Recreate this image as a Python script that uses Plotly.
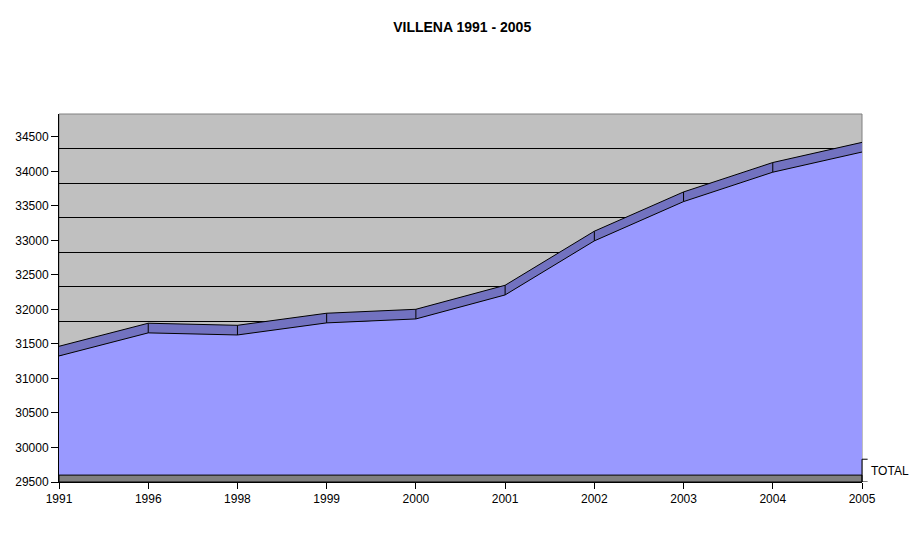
import plotly.graph_objects as go

years = ["1991", "1996", "1998", "1999", "2000", "2001", "2002", "2003", "2004", "2005"]
total = [31326, 31660, 31630, 31805, 31862, 32210, 32993, 33562, 33988, 34280]
grid_vals = [30000, 30500, 31000, 31500, 32000, 32500, 33000, 33500, 34000, 34500]

y_min, y_max = 29500, 34831
depth = 140      # thickness of the 3D top band (value units)
wall_shift = 174  # back-wall gridlines sit lower than the tick marks
floor_h = 100

front_col = "#9999FF"
top_col = "#7272C0"

band_top = [v + depth for v in total]

# little vertical dividers on the top band at each category
div_x, div_y = [], []
for x, v, t in zip(years[1:-1], total[1:-1], band_top[1:-1]):
    div_x += [x, x, None]
    div_y += [v, t, None]

fig = go.Figure()

fig.add_trace(go.Scatter(
    x = years, y = total, mode = "lines",
    line = dict(color = "black", width = 1),
    fill = "tozeroy", fillcolor = front_col,
    showlegend = False, hoverinfo = "x+y",
))
fig.add_trace(go.Scatter(
    x = years, y = band_top, mode = "lines",
    line = dict(color = "black", width = 1),
    fill = "tonexty", fillcolor = top_col,
    showlegend = False, hoverinfo = "skip",
))
fig.add_trace(go.Scatter(
    x = div_x, y = div_y, mode = "lines",
    line = dict(color = "black", width = 1),
    showlegend = False, hoverinfo = "skip",
))
# invisible trace to carry the shifted back-wall grid axis
fig.add_trace(go.Scatter(
    x = [years[0]], y = [grid_vals[0]], yaxis = "y2", mode = "markers",
    marker = dict(opacity = 0), showlegend = False, hoverinfo = "skip",
))

# floor of the 3D box
fig.add_shape(
    type = "rect", xref = "paper", yref = "y",
    x0 = 0, x1 = 1, y0 = y_min, y1 = y_min + floor_h,
    fillcolor = "#808080", line = dict(color = "black", width = 1),
    layer = "above",
)
# depth axis at the right
fig.add_shape(type = "line", xref = "paper", yref = "y",
              x0 = 1, x1 = 1, y0 = y_min, y1 = y_min + 330,
              line = dict(color = "black", width = 1))
for yy in [y_min, y_min + 330]:
    fig.add_shape(type = "line", xref = "paper", yref = "y",
                  x0 = 1, x1 = 1.007, y0 = yy, y1 = yy,
                  line = dict(color = "black", width = 1))
fig.add_annotation(
    text = "TOTAL", xref = "paper", yref = "y",
    x = 1.009, y = y_min + 165, xanchor = "left", yanchor = "middle",
    showarrow = False, font = dict(size = 12, color = "black"),
)

fig.update_layout(
    title = dict(
        text = "<b>VILLENA 1991 - 2005</b>",
        x = 0.503, xanchor = "center", y = 0.964, yanchor = "middle",
        font = dict(size = 14, color = "black"),
    ),
    width = 903,
    height = 527,
    margin = dict(l = 51, r = 49, t = 106, b = 53),
    paper_bgcolor = "white",
    plot_bgcolor = "#C0C0C0",
    font = dict(family = "Liberation Sans, Arial, sans-serif", size = 12, color = "black"),
    xaxis = dict(
        type = "category", range = [0, len(years) - 1],
        showgrid = False, zeroline = False, automargin = False,
        showline = True, linecolor = "black", linewidth = 1,
        ticks = "outside", ticklen = 6, tickcolor = "black",
        tickfont = dict(size = 12),
    ),
    yaxis = dict(
        range = [y_min, y_max],
        tickvals = [29500] + grid_vals, ticktext = [str(v) for v in [29500] + grid_vals],
        showgrid = False, zeroline = False, automargin = False,
        showline = True, linecolor = "black", linewidth = 1,
        ticks = "outside", ticklen = 7, tickcolor = "black",
        tickfont = dict(size = 12),
    ),
    yaxis2 = dict(
        overlaying = "y", side = "left",
        range = [y_min + wall_shift, y_max + wall_shift],
        tickvals = grid_vals, showticklabels = False, ticks = "",
        showgrid = True, gridcolor = "black", gridwidth = 1,
        zeroline = False, showline = False, automargin = False,
    ),
    shapes = list(fig.layout.shapes) + [
        dict(type = "rect", xref = "paper", yref = "paper", x0 = 0, x1 = 1, y0 = 0, y1 = 1,
             line = dict(color = "#808080", width = 1), layer = "below"),
    ],
)

fig.write_html("out.html")
